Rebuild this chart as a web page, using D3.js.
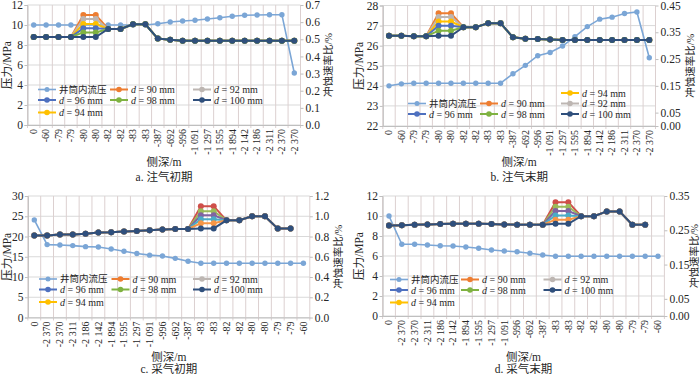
<!DOCTYPE html>
<html><head><meta charset="utf-8">
<script src="https://cdn.jsdelivr.net/npm/d3@7"></script>
<style>
html,body{margin:0;padding:0;background:#fff;}
svg{display:block;font-family:"Liberation Serif","Noto Sans CJK SC",serif;}
</style></head><body>
<svg id="chart" width="700" height="376"></svg>
<script>
// ---------- categories (侧深/m) ----------
const catsA = ["0","-60","-79","-79","-80","-80","-82","-82","-83","-83","-387","-692","-996","-1 091","-1 297","-1 595","-1 894","-2 142","-2 186","-2 311","-2 370","-2 370"];
const catsB = ["0","-60","-79","-79","-80","-80","-82","-82","-83","-83","-387","-692","-996","-1 091","-1 297","-1 595","-1 894","-2 142","-2 186","-2 311","-2 370","-2 370"];
const catsC = ["0","-2 370","-2 370","-2 311","-2 186","-2 142","-1 894","-1 595","-1 297","-1 091","-996","-692","-387","-83","-83","-82","-82","-80","-80","-79","-79","-60"];
const catsD = ["0","-2 370","-2 370","-2 311","-2 186","-2 142","-1 894","-1 595","-1 297","-1 091","-996","-692","-387","-83","-83","-82","-82","-80","-80","-79","-79","-60"];

// ---------- a. 注气初期 ----------
const pressA = [10.0,10.0,10.0,10.0,10.0,10.0,10.0,10.0,10.0,10.0,10.13,10.3,10.4,10.47,10.6,10.73,10.87,10.97,11.0,11.03,11.03,5.2];
const d90A  = [0.513,0.513,0.513,0.513,0.642,0.642,0.56,0.56,0.587,0.587,0.504,0.498,0.492,0.492,0.492,0.492,0.492,0.492,0.492,0.492,0.492,0.492];
const d92A  = [0.513,0.513,0.513,0.513,0.618,0.618,0.56,0.56,0.587,0.587,0.504,0.498,0.492,0.492,0.492,0.492,0.492,0.492,0.492,0.492,0.492,0.492];
const d94A  = [0.513,0.513,0.513,0.513,0.589,0.589,0.56,0.56,0.587,0.587,0.504,0.498,0.492,0.492,0.492,0.492,0.492,0.492,0.492,0.492,0.492,0.492];
const d96A  = [0.513,0.513,0.513,0.513,0.564,0.564,0.56,0.56,0.587,0.587,0.504,0.498,0.492,0.492,0.492,0.492,0.492,0.492,0.492,0.492,0.492,0.492];
const d98A  = [0.513,0.513,0.513,0.513,0.540,0.540,0.56,0.56,0.587,0.587,0.504,0.498,0.492,0.492,0.492,0.492,0.492,0.492,0.492,0.492,0.492,0.492];
const d100A = [0.513,0.513,0.513,0.513,0.513,0.513,0.56,0.56,0.587,0.587,0.504,0.498,0.492,0.492,0.492,0.492,0.492,0.492,0.492,0.492,0.492,0.492];

// ---------- b. 注气末期 ----------
const pressB = [24.0,24.1,24.13,24.13,24.13,24.13,24.13,24.13,24.13,24.13,24.6,25.02,25.5,25.66,25.98,26.45,26.95,27.32,27.42,27.6,27.68,25.4];
const d90B  = [0.337,0.337,0.335,0.335,0.421,0.421,0.369,0.369,0.384,0.384,0.331,0.326,0.325,0.323,0.321,0.321,0.321,0.321,0.321,0.321,0.321,0.321];
const d92B  = [0.337,0.337,0.335,0.335,0.407,0.407,0.369,0.369,0.384,0.384,0.331,0.326,0.325,0.323,0.321,0.321,0.321,0.321,0.321,0.321,0.321,0.321];
const d94B  = [0.337,0.337,0.335,0.335,0.390,0.390,0.369,0.369,0.384,0.384,0.331,0.326,0.325,0.323,0.321,0.321,0.321,0.321,0.321,0.321,0.321,0.321];
const d96B  = [0.337,0.337,0.335,0.335,0.374,0.374,0.369,0.369,0.384,0.384,0.331,0.326,0.325,0.323,0.321,0.321,0.321,0.321,0.321,0.321,0.321,0.321];
const d98B  = [0.337,0.337,0.335,0.335,0.356,0.356,0.369,0.369,0.384,0.384,0.331,0.326,0.325,0.323,0.321,0.321,0.321,0.321,0.321,0.321,0.321,0.321];
const d100B = [0.337,0.337,0.335,0.335,0.337,0.337,0.369,0.369,0.384,0.384,0.331,0.326,0.325,0.323,0.321,0.321,0.321,0.321,0.321,0.321,0.321,0.321];

// ---------- c. 采气初期 ----------
const pressC = [24.1,18.0,17.9,17.75,17.5,17.4,16.9,16.35,15.8,15.4,15.2,14.6,13.9,13.4,13.4,13.4,13.4,13.4,13.4,13.4,13.4,13.4];
const d90C  = [0.81,0.81,0.82,0.82,0.826,0.84,0.842,0.849,0.855,0.862,0.868,0.875,0.875,1.10,1.10,0.96,0.96,1.0,1.0,0.878,0.878,null];
const d92C  = [0.81,0.81,0.82,0.82,0.826,0.84,0.842,0.849,0.855,0.862,0.868,0.875,0.875,1.05,1.05,0.96,0.96,1.0,1.0,0.878,0.878,null];
const d94C  = [0.81,0.81,0.82,0.82,0.826,0.84,0.842,0.849,0.855,0.862,0.868,0.875,0.875,1.01,1.01,0.96,0.96,1.0,1.0,0.878,0.878,null];
const d96C  = [0.81,0.81,0.82,0.82,0.826,0.84,0.842,0.849,0.855,0.862,0.868,0.875,0.875,0.97,0.97,0.96,0.96,1.0,1.0,0.878,0.878,null];
const d98C  = [0.81,0.81,0.82,0.82,0.826,0.84,0.842,0.849,0.855,0.862,0.868,0.875,0.875,0.93,0.93,0.96,0.96,1.0,1.0,0.878,0.878,null];
const d100C = [0.81,0.81,0.82,0.82,0.826,0.84,0.842,0.849,0.855,0.862,0.868,0.875,0.875,0.88,0.88,0.96,0.96,1.0,1.0,0.878,0.878,null];

// ---------- d. 采气末期 ----------
const pressD = [10.0,7.17,7.17,7.1,7.03,7.0,6.9,6.77,6.6,6.5,6.43,6.27,6.1,5.97,5.97,5.97,5.97,5.97,5.97,5.97,5.97,5.97];
const d90D  = [0.264,0.265,0.266,0.267,0.268,0.269,0.269,0.269,0.268,0.267,0.266,0.266,0.266,0.332,0.332,0.291,0.291,0.305,0.305,0.266,0.266,null];
const d92D  = [0.264,0.265,0.266,0.267,0.268,0.269,0.269,0.269,0.268,0.267,0.266,0.266,0.266,0.319,0.319,0.291,0.291,0.305,0.305,0.266,0.266,null];
const d94D  = [0.264,0.265,0.266,0.267,0.268,0.269,0.269,0.269,0.268,0.267,0.266,0.266,0.266,0.306,0.306,0.291,0.291,0.305,0.305,0.266,0.266,null];
const d96D  = [0.264,0.265,0.266,0.267,0.268,0.269,0.269,0.269,0.268,0.267,0.266,0.266,0.266,0.293,0.293,0.291,0.291,0.305,0.305,0.266,0.266,null];
const d98D  = [0.264,0.265,0.266,0.267,0.268,0.269,0.269,0.269,0.268,0.267,0.266,0.266,0.266,0.281,0.281,0.291,0.291,0.305,0.305,0.266,0.266,null];
const d100D = [0.264,0.265,0.266,0.267,0.268,0.269,0.269,0.269,0.268,0.267,0.266,0.266,0.266,0.269,0.269,0.291,0.291,0.305,0.305,0.266,0.266,null];

// ---------- axis ticks ----------
const leftTicksA = [0,2,4,6,8,10,12];
const rightTicksA = [0,0.1,0.2,0.3,0.4,0.5,0.6,0.7];
const leftTicksB = [22,23,24,25,26,27,28];
const rightTicksB = [0,0.05,0.15,0.25,0.35,0.45];
const leftTicksC = [0,5,10,15,20,25,30];
const rightTicksC = [0,0.2,0.4,0.6,0.8,1.0,1.2];
const leftTicksD = [0,2,4,6,8,10,12];
const rightTicksD = [0,0.05,0.15,0.25,0.35];

const sizes = [90,92,94,96,98,100];
const pressName = "井筒内流压";
const captions = ["a. 注气初期","b. 注气末期","c. 采气初期","d. 采气末期"];

// ---------- styles ----------
const cPress = "#7ba6d6";
const legendColors = {90:"#ed7d31",92:"#bdb6b2",94:"#ffc000",96:"#4e70bf",98:"#7fb241",100:"#2f4f7c"};
const paletteNew = {90:"#ed7d31",92:"#bdb6b2",94:"#ffc000",96:"#4e70bf",98:"#7fb241",100:"#2f4f7c"};
const paletteOld = {90:"#cf4f4a",92:"#9bbb59",94:"#8064a2",96:"#4bacc6",98:"#f79646",100:"#2f4f7c"};
const textColor = "#262626";

const panels = [
  {cats:catsA, press:pressA, ds:[d90A,d92A,d94A,d96A,d98A,d100A], lt:leftTicksA, rt:rightTicksA, lfmt:d3.format("d"), rfmt:d3.format(".1f"),
   x0:27.5, x1:300.5, y0:5, y1:125, pal:paletteNew, ltx:6.5, rtx:328, xtY:166, capY:181,
   leg:{cols:[38,110,193], rows:[89.5,100,112.5], pos:{p:[0,0],90:[1,0],92:[2,0],96:[0,1],98:[1,1],100:[2,1],94:[0,2]}}},
  {cats:catsB, press:pressB, ds:[d90B,d92B,d94B,d96B,d98B,d100B], lt:leftTicksB, rt:rightTicksB, lfmt:d3.format("d"), rfmt:d3.format(".2f"),
   x0:382.8, x1:655.5, y0:5.5, y1:126, pal:paletteNew, ltx:359, rtx:690, xtY:166, capY:181,
   leg:{cols:[408,480,561], rows:[93,103.5,114], pos:{94:[2,0],p:[0,1],90:[1,1],92:[2,1],96:[0,2],98:[1,2],100:[2,2]}}},
  {cats:catsC, press:pressC, ds:[d90C,d92C,d94C,d96C,d98C,d100C], lt:leftTicksC, rt:rightTicksC, lfmt:d3.format("d"), rfmt:d3.format(".1f"),
   x0:27.9, x1:309.8, y0:196, y1:317.5, pal:paletteOld, ltx:6.5, rtx:338, xtY:361, capY:373,
   leg:{cols:[39,111.5,193], rows:[279,289.5,302], pos:{p:[0,0],90:[1,0],92:[2,0],96:[0,1],98:[1,1],100:[2,1],94:[0,2]}}},
  {cats:catsD, press:pressD, ds:[d90D,d92D,d94D,d96D,d98D,d100D], lt:leftTicksD, rt:rightTicksD, lfmt:d3.format("d"), rfmt:d3.format(".2f"),
   x0:382.6, x1:664.4, y0:196, y1:316, pal:paletteOld, ltx:359, rtx:694, xtY:361, capY:373,
   leg:{cols:[390,461,543.5], rows:[279.5,290,302.5], pos:{p:[0,0],90:[1,0],92:[2,0],96:[0,1],98:[1,1],100:[2,1],94:[0,2]}}}
];

const svg = d3.select("#chart");

panels.forEach((P, pi) => {
  const g = svg.append("g");
  const n = P.cats.length;
  const x = d3.scaleBand().domain(d3.range(n)).range([P.x0, P.x1]).padding(0);
  const bw = x.bandwidth();
  const yL = d3.scaleLinear().domain([P.lt[0], P.lt[P.lt.length-1]]).range([P.y1, P.y0]);
  const yR = d3.scaleLinear().domain([P.rt[0], P.rt[P.rt.length-1]]).range([P.y1, P.y0]);

  // horizontal gridlines
  g.append("g").selectAll("line").data(P.lt).join("line")
    .attr("x1", P.x0).attr("x2", P.x1)
    .attr("y1", d => yL(d)).attr("y2", d => yL(d))
    .attr("stroke", "#d9d9d9").attr("stroke-width", 1);
  // vertical gridlines at category boundaries (extend as tick marks)
  const bounds = d3.range(n + 1).map(i => i < n ? x(i) : P.x1);
  g.append("g").selectAll("line").data(bounds).join("line")
    .attr("x1", d => d).attr("x2", d => d)
    .attr("y1", P.y0).attr("y2", P.y1 + 3)
    .attr("stroke", "#dcd0d0").attr("stroke-width", 1);

  // left axis
  const la = g.append("g").attr("transform", `translate(${P.x0},0)`)
    .call(d3.axisLeft(yL).tickValues(P.lt).tickFormat(P.lfmt).tickSize(3).tickPadding(1.5));
  la.select(".domain").attr("stroke", "#bfbfbf");
  la.selectAll(".tick line").attr("stroke", "#bfbfbf");
  la.selectAll("text").attr("fill", textColor).style("font-size", "11.5px").style("font-family", "Liberation Serif");
  // right axis
  const ra = g.append("g").attr("transform", `translate(${P.x1},0)`)
    .call(d3.axisRight(yR).tickValues(P.rt).tickFormat(P.rfmt).tickSize(3).tickPadding(2));
  ra.select(".domain").remove();
  ra.selectAll(".tick line").attr("stroke", "#bfbfbf");
  ra.selectAll("text").attr("fill", textColor).style("font-size", "11.5px").style("font-family", "Liberation Serif");
  // bottom axis
  const ba = g.append("g").attr("transform", `translate(0,${P.y1})`)
    .call(d3.axisBottom(x).tickFormat(i => P.cats[i]).tickSize(0).tickPadding(0));
  ba.select(".domain").attr("stroke", "#bfbfbf");
  ba.selectAll("text")
    .attr("fill", textColor).style("font-size", "10px").style("font-family", "Liberation Serif")
    .attr("text-anchor", "end").attr("transform", "rotate(-90)")
    .attr("x", -4).attr("y", 0).attr("dy", "0.33em");

  // series
  const lineR = d3.line().defined(v => v != null).x((v, i) => x(i) + bw/2).y(v => yR(v));
  const lineL = d3.line().defined(v => v != null).x((v, i) => x(i) + bw/2).y(v => yL(v));

  g.append("path").datum(P.press).attr("d", lineL).attr("fill", "none")
    .attr("stroke", cPress).attr("stroke-width", 1.6);
  g.append("g").selectAll("circle").data(P.press.map((v,i)=>[v,i]).filter(d=>d[0]!=null)).join("circle")
    .attr("cx", d => x(d[1]) + bw/2).attr("cy", d => yL(d[0])).attr("r", 2.7).attr("fill", cPress);

  P.ds.forEach((arr, k) => {
    const col = P.pal[sizes[k]];
    g.append("path").datum(arr).attr("d", lineR).attr("fill", "none")
      .attr("stroke", col).attr("stroke-width", 2);
    g.append("g").selectAll("circle").data(arr.map((v,i)=>[v,i]).filter(d=>d[0]!=null)).join("circle")
      .attr("cx", d => x(d[1]) + bw/2).attr("cy", d => yR(d[0])).attr("r", 3).attr("fill", col);
  });

  // legend
  const L = P.leg;
  const entries = [{key:"p", color:cPress, label:null, w:1.6, r:2.5}]
    .concat(sizes.map(s => ({key:s, color:legendColors[s], label:s, w:2, r:2.8})));
  entries.forEach(e => {
    const pos = L.pos[e.key];
    const lx = L.cols[pos[0]], ly = L.rows[pos[1]];
    g.append("line").attr("x1", lx).attr("x2", lx + 18).attr("y1", ly).attr("y2", ly)
      .attr("stroke", e.color).attr("stroke-width", e.w);
    g.append("circle").attr("cx", lx + 9).attr("cy", ly).attr("r", e.r).attr("fill", e.color);
    const t = g.append("text").attr("x", lx + 21).attr("y", ly).attr("dy", "0.35em")
      .attr("fill", textColor).style("font-size", "10px");
    if (e.label == null) {
      t.style("font-family", "'Noto Sans CJK SC'").style("font-size", "9.5px").text(pressName);
    } else {
      t.append("tspan").style("font-style", "italic").text("d");
      t.append("tspan").text(" = " + e.label + " mm");
    }
  });

  // axis titles
  const yc = (P.y0 + P.y1) / 2;
  g.append("text").attr("transform", `translate(${P.ltx},${yc}) rotate(-90)`)
    .attr("text-anchor", "middle").attr("dy", "0.35em").attr("fill", textColor)
    .style("font-size", "11.5px").text("压力/MPa");
  g.append("text").attr("transform", `translate(${P.rtx},${yc}) rotate(-90)`)
    .attr("text-anchor", "middle").attr("dy", "0.35em").attr("fill", textColor)
    .style("font-size", "10.5px").text("冲蚀速率比/%");
  const xc = (P.x0 + P.x1) / 2;
  g.append("text").attr("x", xc).attr("y", P.xtY).attr("text-anchor", "middle")
    .attr("fill", textColor).style("font-size", "11.5px").text("侧深/m");
  g.append("text").attr("x", xc).attr("y", P.capY).attr("text-anchor", "middle")
    .attr("fill", textColor).style("font-size", "11.5px").text(captions[pi]);
});
</script>
</body></html>
